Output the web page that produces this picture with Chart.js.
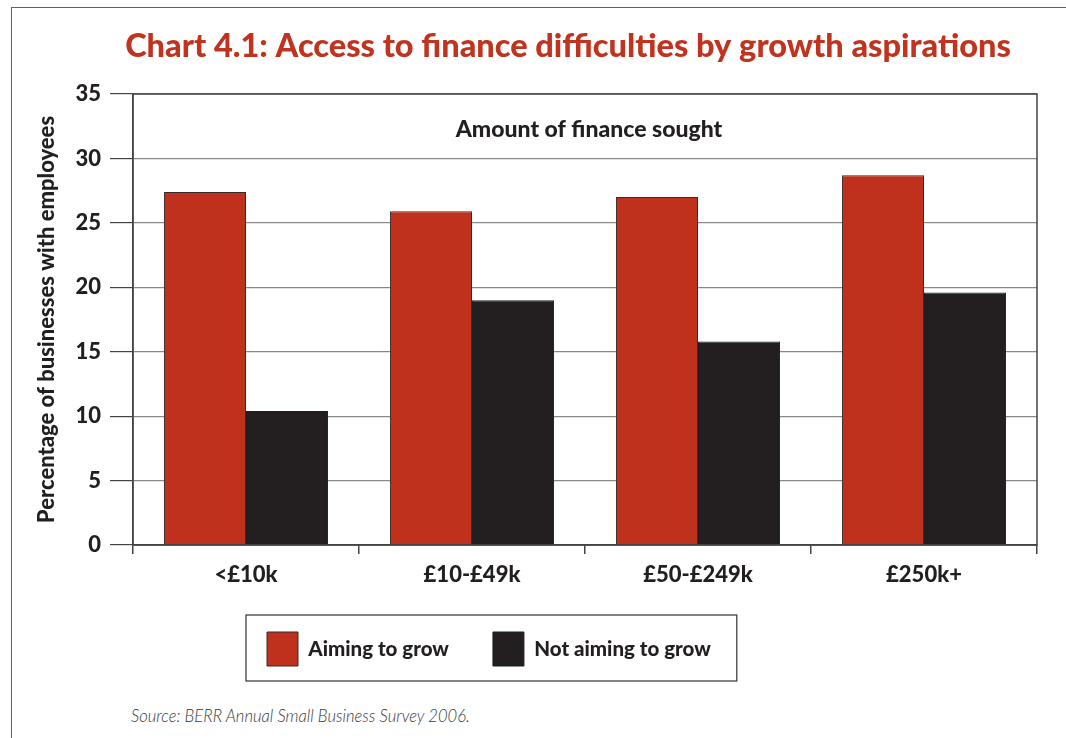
<!DOCTYPE html>
<html>
<head>
<meta charset="utf-8">
<script src="https://cdn.jsdelivr.net/npm/chart.js@4"></script>
<style>
    body { margin: 0; background: #fff; }
    #wrap { position: relative; width: 1066px; height: 738px; overflow: hidden; }
    #frame { position: absolute; left: 11px; top: 7px; width: 1100px; height: 800px; border: 1px solid #c63a24; }
    #holder { position: absolute; left: 0; top: 0; width: 1066px; height: 700px; }
    #source { position: absolute; left: 131px; top: 706px; font: italic 300 16.6px Lato, "Open Sans", sans-serif; color: #3a3a3a; }
</style>
</head>
<body>
<div id="wrap">
    <div id="frame"></div>
    <div id="holder"><canvas id="chart"></canvas></div>
    <div id="source">Source: BERR Annual Small Business Survey 2006.</div>
</div>
<script>
const categories = ['<£10k', '£10-£49k', '£50-£249k', '£250k+'];
const aimingToGrow = [27.4, 25.9, 27.0, 28.7];
const notAimingToGrow = [10.4, 19.0, 15.8, 19.6];
const yTicks = [0, 5, 10, 15, 20, 25, 30, 35];

const RED = '#bf311d';
const BLACK = '#231f20';
const FONT = 'Lato, "Open Sans", sans-serif';
const W = 900;

// Titel und Legende etwas verschieben, wie im Original
const placement = {
    id: 'placement',
    afterLayout(chart) {
        const t = chart.titleBlock;
        const shift = 568 - (t.left + t.right) / 2;
        t.left += shift;
        t.right += shift;
        chart.legend.left = 267 - chart.legend.options.labels.padding;
    }
};

// Rahmen um Plotfläche, Innenbeschriftung und Legendenkasten
const extras = {
    id: 'extras',
    afterDraw(chart) {
        const ctx = chart.ctx;
        const a = chart.chartArea;
        ctx.save();
        ctx.strokeStyle = '#444';
        ctx.lineWidth = 1.5;
        ctx.strokeRect(a.left, a.top, a.right - a.left, a.bottom - a.top);

        ctx.fillStyle = BLACK;
        ctx.font = W + ' 23px ' + FONT;
        ctx.textAlign = 'center';
        ctx.textBaseline = 'middle';
        ctx.fillText('Amount of finance sought', (a.left + a.right) / 2 + 4, 130);

        const boxes = chart.legend.legendHitBoxes;
        if (boxes && boxes.length) {
            const l = Math.min(...boxes.map(b => b.left)) - 21;
            const r = Math.max(...boxes.map(b => b.left + b.width)) + 26;
            const t = boxes[0].top - 17;
            const btm = boxes[0].top + boxes[0].height + 15;
            ctx.lineWidth = 1.2;
            ctx.strokeStyle = '#333';
            ctx.strokeRect(l, t, r - l, btm - t);
        }
        ctx.restore();
    }
};

new Chart(document.getElementById('chart'), {
    type: 'bar',
    data: {
        labels: categories,
        datasets: [
            {
                label: 'Aiming to grow',
                data: aimingToGrow,
                backgroundColor: RED,
                borderColor: '#3a2a28',
                borderWidth: 1
            },
            {
                label: 'Not aiming to grow',
                data: notAimingToGrow,
                backgroundColor: BLACK,
                borderColor: BLACK,
                borderWidth: 1
            }
        ]
    },
    options: {
        responsive: true,
        maintainAspectRatio: false,
        animation: false,
        layout: { padding: { left: 30, right: 29, top: 10, bottom: 24 } },
        datasets: { bar: { categoryPercentage: 0.726, barPercentage: 1.0 } },
        scales: {
            x: {
                afterFit: s => { s.height = 43; },
                grid: { drawOnChartArea: false, offset: true, tickLength: 9, color: '#444', lineWidth: 1.5 },
                border: { color: '#444', width: 1.5 },
                ticks: { color: BLACK, padding: 8, font: { family: FONT, size: 22, weight: W } }
            },
            y: {
                min: 0,
                max: 35,
                afterFit: s => { s.width = 103; },
                afterBuildTicks: s => { s.ticks = yTicks.map(v => ({ value: v })); },
                grid: { color: '#8a8a8a', lineWidth: 1.2, tickLength: 23, tickColor: '#444' },
                border: { color: '#444', width: 1.5 },
                ticks: { color: BLACK, padding: 9, font: { family: FONT, size: 22, weight: W } },
                title: {
                    display: true,
                    text: 'Percentage of businesses with employees',
                    color: BLACK,
                    padding: { top: 4, bottom: 0 },
                    font: { family: FONT, size: 22, weight: W }
                }
            }
        },
        plugins: {
            title: {
                display: true,
                text: 'Chart 4.1: Access to finance difficulties by growth aspirations',
                color: '#c0341f',
                padding: { top: 17, bottom: 28 },
                font: { family: FONT, size: 32.5, weight: W }
            },
            legend: {
                position: 'bottom',
                align: 'start',
                labels: {
                    boxWidth: 31,
                    boxHeight: 34,
                    padding: 44,
                    color: BLACK,
                    font: { family: FONT, size: 20.5, weight: W }
                }
            },
            tooltip: { enabled: false }
        }
    },
    plugins: [placement, extras]
});
</script>
</body>
</html>
